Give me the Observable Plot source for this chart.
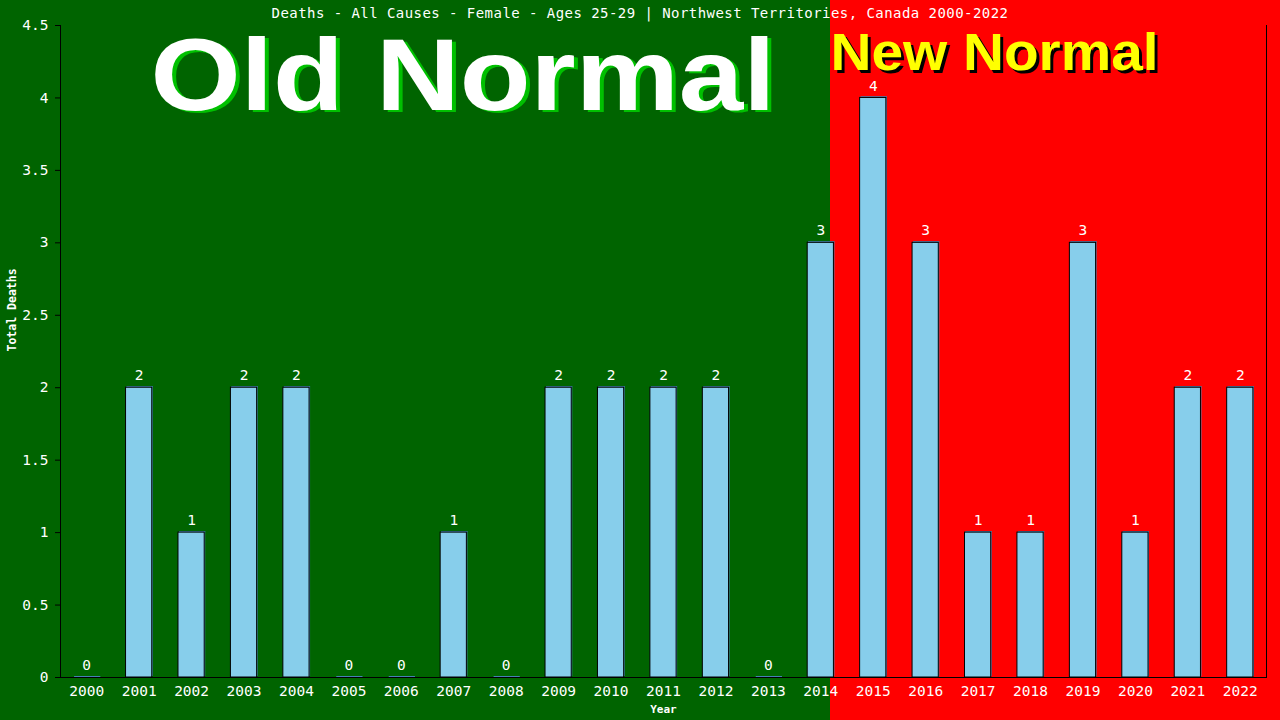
<!DOCTYPE html>
<html><head><meta charset="utf-8">
<script src="https://cdn.jsdelivr.net/npm/d3@7"></script>
<script src="https://cdn.jsdelivr.net/npm/@observablehq/plot@0.6"></script>
<style>
html,body{margin:0;padding:0;width:1280px;height:720px;overflow:hidden;}
body{background:linear-gradient(to right,#006400 0,#006400 830px,#ff0000 830px,#ff0000 100%);position:relative;font-family:"DejaVu Sans Mono",monospace;}
#chart{position:absolute;left:0;top:0;}
#title{position:absolute;left:0;top:4px;width:1280px;text-align:center;color:#fff;font-size:14px;letter-spacing:0.45px;white-space:nowrap;line-height:18px;}
</style></head><body>
<div id="chart"></div>
<div id="title">Deaths - All Causes - Female - Ages 25-29 | Northwest Territories, Canada 2000-2022</div>
<script>
const years = ["2000","2001","2002","2003","2004","2005","2006","2007","2008","2009","2010","2011","2012","2013","2014","2015","2016","2017","2018","2019","2020","2021","2022"];
const deaths = [0,2,1,2,2,0,0,1,0,2,2,2,2,0,3,4,3,1,1,3,1,2,2];
const yTicks = [0,0.5,1,1.5,2,2.5,3,3.5,4,4.5];
const oldLabel = "Old Normal";
const newLabel = "New Normal";
const yLabel = "Total Deaths";
const xLabel = "Year";

const data = years.map((y, i) => ({year: y, deaths: deaths[i]}));

const frameLines = (index, scales, values, dims) => {
  const g = d3.create("svg:g");
  const x0 = dims.marginLeft, x1 = dims.width - dims.marginRight;
  const y0 = dims.marginTop, y1 = dims.height - dims.marginBottom;
  g.append("line").attr("x1", x0 + 0.5).attr("x2", x0 + 0.5).attr("y1", y0).attr("y2", y1).attr("stroke", "black");
  g.append("line").attr("x1", x1 + 0.5).attr("x2", x1 + 0.5).attr("y1", y0).attr("y2", y1).attr("stroke", "black");
  g.append("line").attr("x1", x0 - 5).attr("x2", x1 + 1).attr("y1", y1 + 0.5).attr("y2", y1 + 0.5).attr("stroke", "black");
  return g.node();
};

const bigFont = "Liberation Sans, Arial, sans-serif";

const chart = Plot.plot({
  width: 1280,
  height: 720,
  marginLeft: 60,
  marginRight: 14,
  marginTop: 25,
  marginBottom: 43,
  style: {background: "transparent", color: "white", fontFamily: "DejaVu Sans Mono, monospace", fontSize: "14.5px", overflow: "visible"},
  x: {type: "band", domain: years, paddingInner: 0.5, paddingOuter: 0.25, round: false},
  y: {domain: [0, 4.5]},
  marks: [
    Plot.text([oldLabel], {frameAnchor: "top-left", dx: 94, dy: 86, text: d => d, fill: "#00c000", fontSize: 102, fontWeight: "bold", fontFamily: bigFont, textAnchor: "start", lineAnchor: "bottom"}),
    Plot.text([oldLabel], {frameAnchor: "top-left", dx: 90, dy: 84, text: d => d, fill: "white", fontSize: 102, fontWeight: "bold", fontFamily: bigFont, textAnchor: "start", lineAnchor: "bottom"}),
    Plot.text([newLabel], {frameAnchor: "top-left", dx: 773, dy: 47, text: d => d, fill: "black", fontSize: 51, fontWeight: "bold", fontFamily: bigFont, textAnchor: "start", lineAnchor: "bottom"}),
    Plot.text([newLabel], {frameAnchor: "top-left", dx: 770, dy: 44, text: d => d, fill: "yellow", fontSize: 51, fontWeight: "bold", fontFamily: bigFont, textAnchor: "start", lineAnchor: "bottom"}),
    Plot.barY(data, {x: "year", y: "deaths", fill: "steelblue", dx: 1, dy: -1}),
    Plot.tickY(data, {x: "year", y: "deaths", stroke: "steelblue", dx: 1, dy: -1}),
    Plot.barY(data, {x: "year", y: "deaths", fill: "skyblue", stroke: "black", strokeWidth: 1}),
    frameLines,
    Plot.axisY({ticks: yTicks, tickFormat: d => String(d), tickSize: 5, tickPadding: 7, stroke: "black", fill: "white", label: null}),
    Plot.axisX({tickSize: 0, tickPadding: 8, fill: "white", label: null}),
    Plot.text(data, {x: "year", y: "deaths", text: d => String(d.deaths), dy: -12, fill: "white", lineAnchor: "middle"}),
    Plot.text([yLabel], {frameAnchor: "left", dx: -48, rotate: -90, text: d => d, fill: "white", fontSize: 11.5, fontWeight: "bold"}),
    Plot.text([xLabel], {frameAnchor: "bottom", dy: 32, text: d => d, fill: "white", fontSize: 11, fontWeight: "bold", lineAnchor: "middle"})
  ]
});

d3.select(chart).selectAll("text").each(function() {
  if (this.textContent === oldLabel) { this.setAttribute("textLength", 625); this.setAttribute("lengthAdjust", "spacingAndGlyphs"); }
  if (this.textContent === newLabel) { this.setAttribute("textLength", 328); this.setAttribute("lengthAdjust", "spacingAndGlyphs"); }
});

document.getElementById("chart").appendChild(chart);
</script>
</body></html>
